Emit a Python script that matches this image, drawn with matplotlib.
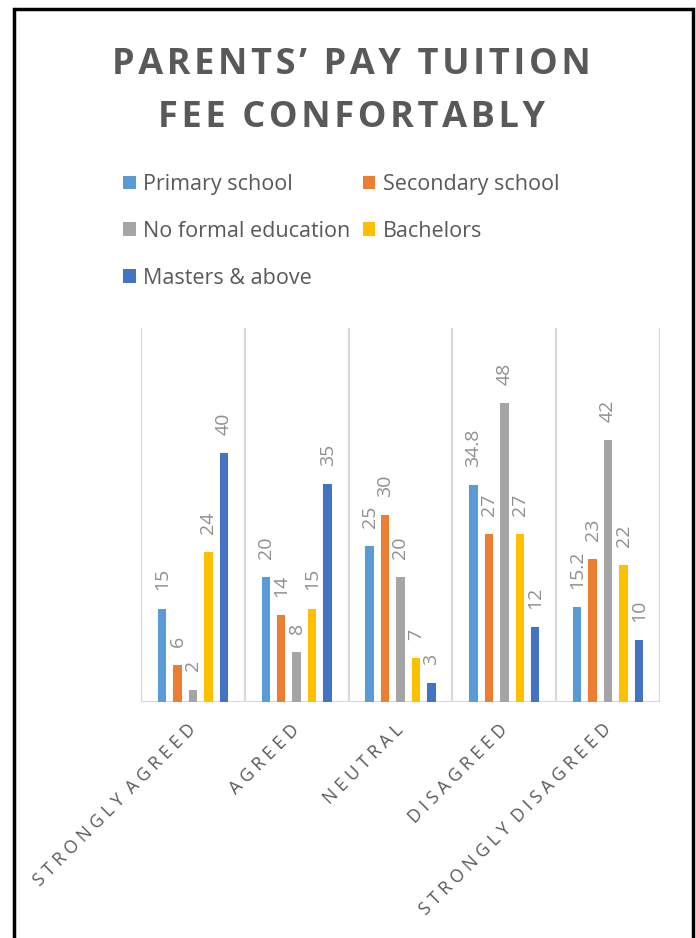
import matplotlib
matplotlib.use('Agg')
import matplotlib.pyplot as plt
import matplotlib.patches as mpatches
import numpy as np

plt.rcParams['font.family'] = ['Open Sans', 'DejaVu Sans']

categories = ['STRONGLY AGREED', 'AGREED', 'NEUTRAL', 'DISAGREED', 'STRONGLY DISAGREED']
series_names = ['Primary school', 'Secondary school', 'No formal education', 'Bachelors', 'Masters & above']
primary = [15, 20, 25, 34.8, 15.2]
secondary = [6, 14, 30, 27, 23]
no_formal = [2, 8, 20, 48, 42]
bachelors = [24, 15, 7, 27, 22]
masters = [40, 35, 3, 12, 10]
colors = ['#5B9BD5', '#ED7D31', '#A5A5A5', '#FFC000', '#4472C4']

title_lines = ['PARENTS’ PAY TUITION', 'FEE CONFORTABLY']


def spaced(s, sep='\u200a', word_sep=None):
    # fake letter spacing
    if word_sep is None:
        return sep.join(s)
    return word_sep.join(sep.join(w) for w in s.split(' '))


W, H = 696, 938
fig = plt.figure(figsize=(W / 100, H / 100), dpi=100)

# outer frame (open at the bottom like the cropped screenshot)
fig.patches.append(mpatches.Rectangle((13.5 / W, -0.05), (693 - 13.5) / W, 1.05 - 9.5 / H,
                                      transform=fig.transFigure, fill=False,
                                      edgecolor='black', lw=2.5))

ax = fig.add_axes([141 / W, 1 - 702 / H, 519 / W, 374 / H])

data = [primary, secondary, no_formal, bachelors, masters]
x = np.arange(len(categories))
pitch = 0.149
width = 0.082
handles = []
for i, (vals, c, name) in enumerate(zip(data, colors, series_names)):
    bars = ax.bar(x + (i - 2) * pitch, vals, width, color=c, label=name, zorder=3)
    handles.append(bars)
    for b, v in zip(bars, vals):
        txt = f'{v:g}'
        ax.annotate(txt, (b.get_x() + b.get_width() / 2, v), xytext=(0, 13),
                    textcoords='offset points', rotation=90, ha='center', va='bottom',
                    fontsize=14, color='#8f8f8f')

ax.set_xlim(-0.5, 4.5)
ax.set_ylim(0, 60)
for xv in np.arange(-0.5, 5, 1):
    ax.axvline(xv, color='#d9d9d9', lw=1.6, zorder=1)
ax.axhline(0, color='#d9d9d9', lw=1.6, zorder=2)
for s in ax.spines.values():
    s.set_visible(False)
ax.set_yticks([])
ax.set_xticks(x)
ax.set_xticklabels([spaced(c, ' ', '  ') for c in categories], rotation=45, ha='right',
                   va='center', rotation_mode='anchor', fontsize=12.7, color='#595959')
ax.tick_params(axis='x', length=0, pad=18)

# title
fig.text(351 / W, 1 - 74 / H, spaced(title_lines[0]), ha='center', va='baseline',
         fontsize=26, fontweight='bold', color='#595959')
fig.text(351 / W, 1 - 127 / H, spaced(title_lines[1]), ha='center', va='baseline',
         fontsize=26, fontweight='bold', color='#595959')

# legend, row-wise order
order = [0, 2, 4, 1, 3]
fig.legend([handles[i] for i in order], [series_names[i] for i in order],
           loc='upper left', bbox_to_anchor=(123 / W, 1 - 174 / H), ncol=2,
           frameon=False, fontsize=15.5, labelcolor='#595959',
           handlelength=0.6, handleheight=0.6, handletextpad=0.35,
           columnspacing=0.55, labelspacing=1.2, borderaxespad=0, borderpad=0)

fig.savefig('out.png', dpi=100)
